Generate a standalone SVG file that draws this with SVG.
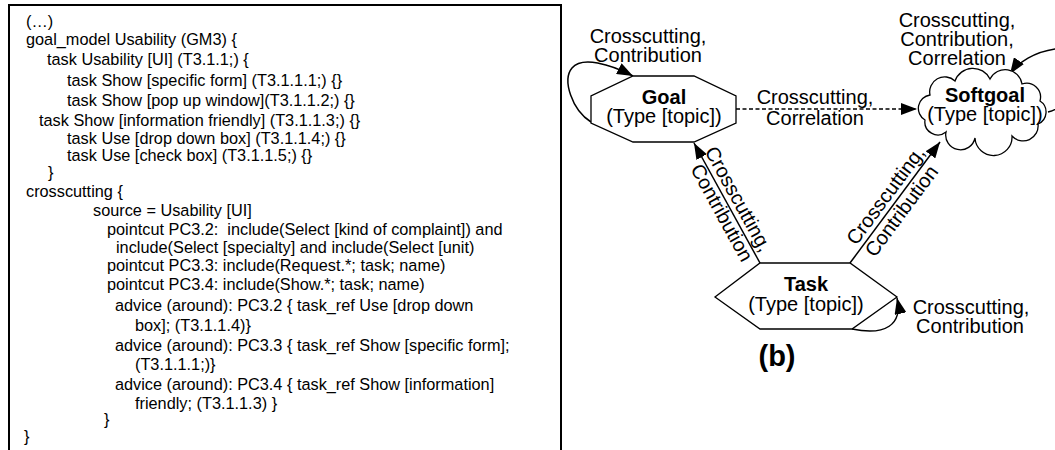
<svg xmlns="http://www.w3.org/2000/svg" width="1055" height="450" viewBox="0 0 1055 450">
  <style>
    .code { font-family: "Liberation Sans", Arial, sans-serif; font-size: 16.3px; fill: #000; white-space: pre; }
    .lbl { font-family: "Liberation Sans", Arial, sans-serif; font-size: 20px; fill: #000; text-anchor: middle; }
    .b { font-weight: bold; }
    .shape { fill: #fff; stroke: #000; stroke-width: 1.3; }
    .edge { fill: none; stroke: #000; stroke-width: 1.5; }
    .dash { stroke-dasharray: 4 2.5; }
  </style>
  <defs>
    <marker id="arrow" viewBox="0 0 16 12" refX="16" refY="6" markerWidth="16" markerHeight="12" markerUnits="userSpaceOnUse" orient="auto">
      <path d="M0,0 L16,6 L0,12 Z" fill="#000"/>
    </marker>
  </defs>

  <!-- (a) goal model listing -->
  <g id="listing">
    <rect x="9" y="5" width="552" height="460" fill="#fff" stroke="#000" stroke-width="2"/>
    <text class="code" x="26" y="27">(…)</text>
    <text class="code" x="26" y="45">goal_model Usability (GM3) {</text>
    <text class="code" x="47" y="65">task Usability [UI] (T3.1.1;) {</text>
    <text class="code" x="67" y="86">task Show [specific form] (T3.1.1.1;) {}</text>
    <text class="code" x="67" y="106">task Show [pop up window](T3.1.1.2;) {}</text>
    <text class="code" x="39" y="125.5">task Show [information friendly] (T3.1.1.3;) {}</text>
    <text class="code" x="67" y="144">task Use [drop down box] (T3.1.1.4;) {}</text>
    <text class="code" x="67" y="161">task Use [check box] (T3.1.1.5;) {}</text>
    <text class="code" x="48" y="178">}</text>
    <text class="code" x="26" y="197">crosscutting {</text>
    <text class="code" x="93" y="216">source = Usability [UI]</text>
    <text class="code" x="107" y="235">pointcut PC3.2:  include(Select [kind of complaint]) and</text>
    <text class="code" x="116" y="253">include(Select [specialty] and include(Select [unit)</text>
    <text class="code" x="107" y="271">pointcut PC3.3: include(Request.*; task; name)</text>
    <text class="code" x="107" y="290">pointcut PC3.4: include(Show.*; task; name)</text>
    <text class="code" x="115" y="311">advice (around): PC3.2 { task_ref Use [drop down</text>
    <text class="code" x="135" y="331">box]; (T3.1.1.4)}</text>
    <text class="code" x="115" y="351">advice (around): PC3.3 { task_ref Show [specific form];</text>
    <text class="code" x="135" y="370">(T3.1.1.1;)}</text>
    <text class="code" x="115" y="390">advice (around): PC3.4 { task_ref Show [information]</text>
    <text class="code" x="135" y="409">friendly; (T3.1.1.3) }</text>
    <text class="code" x="104" y="425">}</text>
    <text class="code" x="24" y="442">}</text>
  </g>

  <!-- (b) connectors -->
  <g id="connectors">
    <!-- Goal self loop -->
    <path class="edge" d="M591,122 C572,110 562,80 572,68 C582,56 610,64 633,76" marker-end="url(#arrow)"/>
    <text class="lbl" x="648" y="43">Crosscutting,</text>
    <text class="lbl" x="648" y="62">Contribution</text>

    <!-- Goal to Softgoal -->
    <path class="edge dash" d="M736,109 L917,109" marker-end="url(#arrow)"/>
    <text class="lbl" x="815" y="103.5">Crosscutting,</text>
    <text class="lbl" x="815" y="124.5">Correlation</text>

    <!-- Task to Goal -->
    <path class="edge" d="M760,263 L694,143" marker-end="url(#arrow)"/>
    <g transform="translate(727,203) rotate(61.2)">
      <text class="lbl" x="2" y="-5">Crosscutting,</text>
      <text class="lbl" x="6" y="16">Contribution</text>
    </g>

    <!-- Task to Softgoal -->
    <path class="edge" d="M850,263 L940,142" marker-end="url(#arrow)"/>
    <g transform="translate(895,202.5) rotate(-53.35)">
      <text class="lbl" x="0" y="-5">Crosscutting,</text>
      <text class="lbl" x="-3" y="17">Contribution</text>
    </g>

    <!-- Task self loop -->
    <path class="edge" d="M852,329 C885,336 903,325 897,298" marker-end="url(#arrow)"/>
    <text class="lbl" x="971" y="313.5">Crosscutting,</text>
    <text class="lbl" x="970" y="333">Contribution</text>

    <!-- Softgoal self loop -->
    <path class="edge" d="M1048,112 C1080,105 1085,45 1055,49 C1035,52 1018,62 1010,74" marker-end="url(#arrow)"/>
    <text class="lbl" x="957" y="27">Crosscutting,</text>
    <text class="lbl" x="957" y="46">Contribution,</text>
    <text class="lbl" x="957" y="65">Correlation</text>
  </g>

  <!-- (b) nodes -->
  <g id="goal">
    <polygon class="shape" points="633,76 694,76 736,96 736,123 694,142 633,142 591,123 591,96"/>
    <text class="lbl b" x="664" y="104">Goal</text>
    <text class="lbl" x="664" y="123">(Type [topic])</text>
  </g>

  <g id="softgoal">
    <path class="shape" d="M925,120 A13.5,13.5 0 0 1 930,95 A15,15 0 0 1 955,81 A19,19 0 0 1 990,79 A17,17 0 0 1 1022,84 A14,14 0 0 1 1040,101 A13,13 0 0 1 1038,124 A15,15 0 0 1 1012,136 A18,18 0 0 1 975,138 A14,14 0 0 1 946,132 A13,13 0 0 1 925,120 Z"/>
    <text class="lbl b" x="985" y="102">Softgoal</text>
    <text class="lbl" x="985" y="121">(Type [topic])</text>
  </g>

  <g id="task">
    <polygon class="shape" points="760,263 850,263 897,297 852,329 760,329 715,297"/>
    <text class="lbl b" x="806" y="291">Task</text>
    <text class="lbl" x="806" y="311">(Type [topic])</text>
  </g>

  <text id="caption" class="lbl b" x="777" y="366" style="font-size:29px">(b)</text>
</svg>
